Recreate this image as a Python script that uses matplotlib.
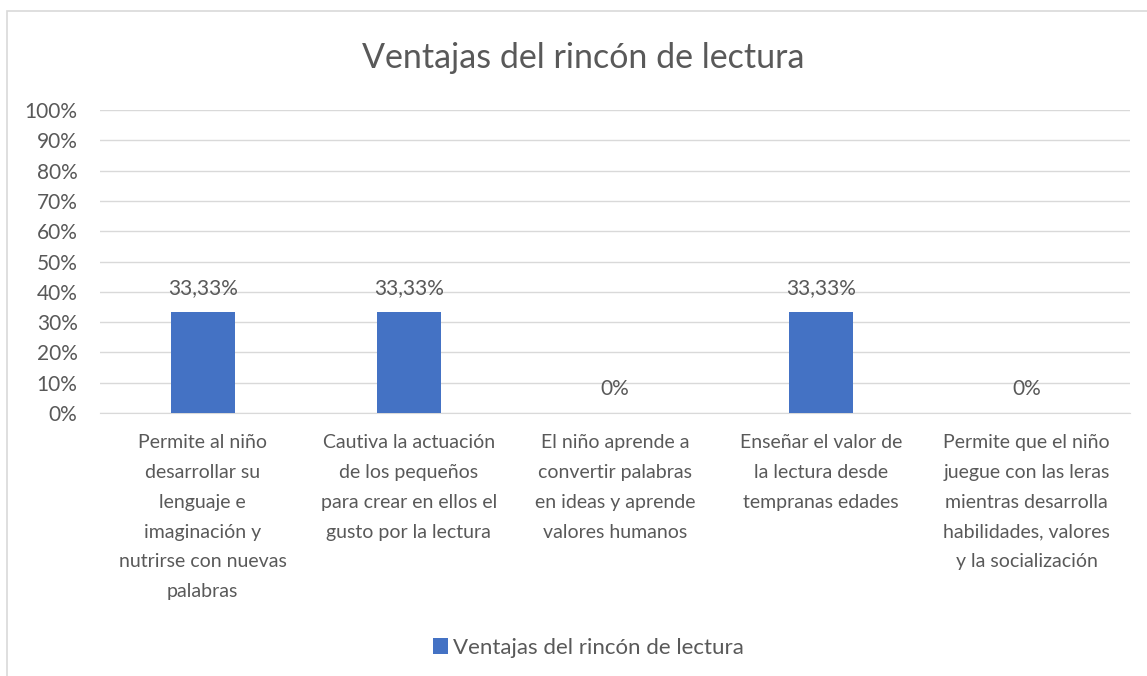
import matplotlib.pyplot as plt
from matplotlib.patches import Rectangle

plt.rcParams['font.family'] = ['Lato', 'DejaVu Sans']

# data
categorias = [
    "Permite al niño\ndesarrollar su\nlenguaje e\nimaginación y\nnutrirse con nuevas\npalabras",
    "Cautiva la actuación\nde los pequeños\npara crear en ellos el\ngusto por la lectura",
    "El niño aprende a\nconvertir palabras\nen ideas y aprende\nvalores humanos",
    "Enseñar el valor de\nla lectura desde\ntempranas edades",
    "Permite que el niño\njuegue con las leras\nmientras desarrolla\nhabilidades, valores\ny la socialización",
]
valores = [33.33, 33.33, 0, 33.33, 0]
etiquetas = ["33,33%", "33,33%", "0%", "33,33%", "0%"]
yticks = [0, 10, 20, 30, 40, 50, 60, 70, 80, 90, 100]

gris = '#595959'
azul = '#4472C4'

fig = plt.figure(figsize=(11.47, 6.76), dpi=100)
# chart border
fig.patches.append(Rectangle((7/1147, -0.1), 1.2, 1 - 11/676 + 0.1, transform=fig.transFigure,
                             fill=False, edgecolor='#d9d9d9', linewidth=1.2))

ax = fig.add_axes([0.087, 0.389, 0.898, 0.448])
x = range(len(categorias))
ax.bar(x, valores, width=0.31, color=azul, zorder=3)

for i, v in enumerate(valores):
    ax.annotate(etiquetas[i], (i, v), xytext=(0, 10), textcoords='offset points',
                ha='center', va='bottom', fontsize=15, color=gris)

ax.set_ylim(0, 100)
ax.set_xlim(-0.5, len(categorias) - 0.5)
ax.set_yticks(yticks)
ax.set_yticklabels([str(t) + '%' for t in yticks])
ax.set_xticks(list(x))
ax.set_xticklabels(categorias, fontsize=14, color=gris, linespacing=1.92, va='top')
ax.tick_params(axis='y', labelsize=15, colors=gris, length=0, pad=16)
ax.tick_params(axis='x', length=0, pad=15)
ax.grid(axis='y', color='#d9d9d9', linewidth=1, zorder=0)
for s in ['top', 'right', 'left']:
    ax.spines[s].set_visible(False)
ax.spines['bottom'].set_color('#d9d9d9')

fig.text(583/1147, 1 - 58/676, "Ventajas del rincón de lectura", ha='center', va='center',
         fontsize=24.5, color=gris)

ax.legend(['Ventajas del rincón de lectura'], loc='center', bbox_to_anchor=(588/1147, 1 - 648/676),
          bbox_transform=fig.transFigure, frameon=False, fontsize=16, labelcolor=gris,
          handlelength=0.7, handleheight=0.7, handletextpad=0.2)

fig.savefig('out.png', dpi=100)
